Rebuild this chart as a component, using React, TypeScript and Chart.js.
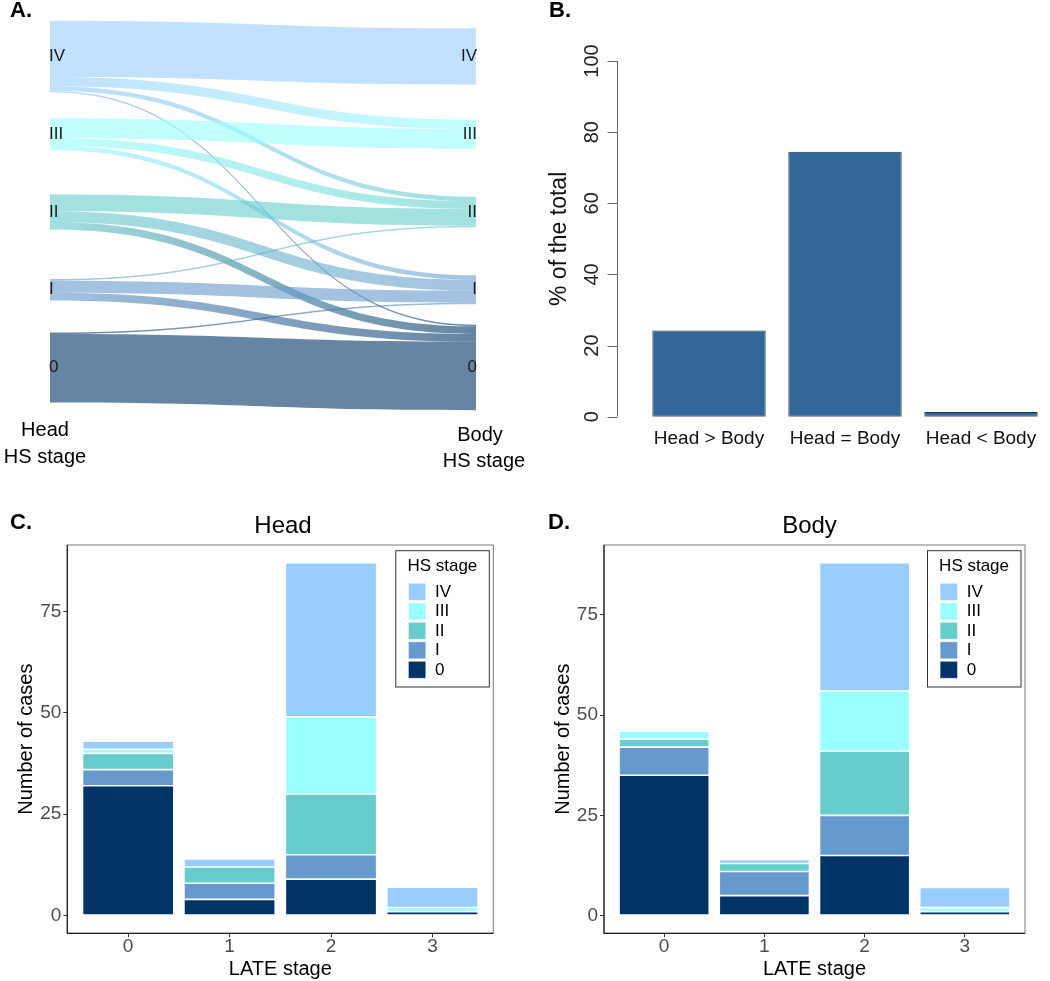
import React, { useEffect, useRef } from 'react';
import { Chart, registerables } from 'chart.js';

Chart.register(...registerables);

const FONT = '"Liberation Sans", Arial, Helvetica, sans-serif';
Chart.defaults.font.family = FONT;

// ---------- Panel A: Head HS stage -> Body HS stage flows ----------
const hsStages = ['0', 'I', 'II', 'III', 'IV'];
const hsColors = ['#003366', '#6699CC', '#66CCCC', '#99FFFF', '#99CCFF'];
const flowFrom = ['IV', 'IV', 'IV', 'IV', 'III', 'III', 'III', 'II', 'II', 'II', 'I', 'I', 'I', '0', '0'];
const flowTo = ['IV', 'III', 'II', '0', 'III', 'II', 'I', 'II', 'I', '0', 'II', 'I', '0', 'I', '0'];
const flowCases = [37, 6, 3, 1, 13, 5, 3, 11, 7, 5, 1, 8, 5, 1, 45];

// ---------- Panel B ----------
const comparisonLabels = ['Head > Body', 'Head = Body', 'Head < Body'];
const comparisonPercent = [24.2, 74.5, 1.3];
const percentTicks = [0, 20, 40, 60, 80, 100];

// ---------- Panels C & D ----------
const lateStages = ['0', '1', '2', '3'];
const caseTicks = [0, 25, 50, 75];
const headStage0 = [32, 4, 9, 1];
const headStageI = [4, 4, 6, 0];
const headStageII = [4, 4, 15, 0];
const headStageIII = [1, 0, 19, 1];
const headStageIV = [2, 2, 38, 5];
const bodyStage0 = [35, 5, 15, 1];
const bodyStageI = [7, 6, 10, 0];
const bodyStageII = [2, 2, 16, 0];
const bodyStageIII = [2, 0, 15, 1];
const bodyStageIV = [0, 1, 32, 5];

const SLOT = 51; // vertical spacing between node centres, in case units

function rgba(hex: string, a: number) {
  const n = parseInt(hex.slice(1), 16);
  return `rgba(${(n >> 16) & 255},${(n >> 8) & 255},${n & 255},${a})`;
}

const sankeyPlugin = {
  id: 'sankeyFlows',
  afterDatasetsDraw(chart: any) {
    const { ctx } = chart;
    const xs = chart.scales.x;
    const ys = chart.scales.y;
    const xL = xs.getPixelForValue(0);
    const xR = xs.getPixelForValue(1);
    const xM = (xL + xR) / 2;
    const idx = (s: string) => hsStages.indexOf(s);
    const n = hsStages.length;
    const outTot = new Array(n).fill(0);
    const inTot = new Array(n).fill(0);
    flowCases.forEach((c, i) => {
      outTot[idx(flowFrom[i])] += c;
      inTot[idx(flowTo[i])] += c;
    });
    const leftCur = outTot.map((t, k) => k * SLOT + t / 2);
    const rightCur = inTot.map((t, k) => k * SLOT + t / 2);
    const order = flowCases.map((_, i) => i);
    const sTop: number[] = [];
    const tTop: number[] = [];
    order
      .slice()
      .sort((a, b) => idx(flowFrom[b]) - idx(flowFrom[a]) || idx(flowTo[b]) - idx(flowTo[a]))
      .forEach((i) => {
        const k = idx(flowFrom[i]);
        sTop[i] = leftCur[k];
        leftCur[k] -= flowCases[i];
      });
    order
      .slice()
      .sort((a, b) => idx(flowTo[b]) - idx(flowTo[a]) || idx(flowFrom[b]) - idx(flowFrom[a]))
      .forEach((i) => {
        const k = idx(flowTo[i]);
        tTop[i] = rightCur[k];
        rightCur[k] -= flowCases[i];
      });

    ctx.save();
    flowCases.forEach((c, i) => {
      const y1 = ys.getPixelForValue(sTop[i]);
      const y2 = ys.getPixelForValue(sTop[i] - c);
      const y3 = ys.getPixelForValue(tTop[i]);
      const y4 = ys.getPixelForValue(tTop[i] - c);
      const g = ctx.createLinearGradient(xL, 0, xR, 0);
      g.addColorStop(0, rgba(hsColors[idx(flowFrom[i])], 0.6));
      g.addColorStop(1, rgba(hsColors[idx(flowTo[i])], 0.6));
      ctx.beginPath();
      ctx.moveTo(xL, y1);
      ctx.bezierCurveTo(xM, y1, xM, y3, xR, y3);
      ctx.lineTo(xR, y4);
      ctx.bezierCurveTo(xM, y4, xM, y2, xL, y2);
      ctx.closePath();
      ctx.fillStyle = g;
      ctx.fill();
    });

    // node labels
    ctx.fillStyle = '#1a1a1a';
    ctx.font = `17px ${FONT}`;
    ctx.textBaseline = 'middle';
    hsStages.forEach((s, k) => {
      const py = ys.getPixelForValue(k * SLOT);
      ctx.textAlign = 'left';
      ctx.fillText(s, xL - 1, py);
      ctx.textAlign = 'right';
      ctx.fillText(s, xR + 1, py);
    });

    // axis captions
    ctx.fillStyle = '#000';
    ctx.font = `20px ${FONT}`;
    ctx.textAlign = 'center';
    ctx.fillText('Head', 45, 430);
    ctx.fillText('HS stage', 45, 457);
    ctx.fillText('Body', 480, 435);
    ctx.fillText('HS stage', 484, 461);

    ctx.font = `bold 22px ${FONT}`;
    ctx.textAlign = 'left';
    ctx.fillText('A.', 10, 11);
    ctx.restore();
  },
};

function sankeyConfig(): any {
  return {
    type: 'scatter',
    data: { datasets: [{ data: [], pointRadius: 0 }] },
    options: {
      animation: false,
      responsive: false,
      devicePixelRatio: 1,
      layout: { padding: { left: 50, right: 69, top: 10, bottom: 60 } },
      plugins: { legend: { display: false }, tooltip: { enabled: false } },
      scales: {
        x: { type: 'linear', min: 0, max: 1, display: false },
        y: { type: 'linear', min: -34.4, max: 234.5, display: false },
      },
    },
    plugins: [sankeyPlugin],
  };
}

const percentAxisPlugin = {
  id: 'percentAxis',
  afterDraw(chart: any) {
    const { ctx, chartArea: a } = chart;
    const x = chart.scales.x;
    const y = chart.scales.y;
    const axisX = Math.round(a.left - 24) + 0.5;
    ctx.save();
    ctx.strokeStyle = '#666';
    ctx.lineWidth = 1;
    ctx.beginPath();
    ctx.moveTo(axisX, y.getPixelForValue(percentTicks[0]));
    ctx.lineTo(axisX, y.getPixelForValue(percentTicks[percentTicks.length - 1]));
    ctx.stroke();
    percentTicks.forEach((v) => {
      const py = Math.round(y.getPixelForValue(v)) + 0.5;
      ctx.beginPath();
      ctx.moveTo(axisX - 10, py);
      ctx.lineTo(axisX, py);
      ctx.stroke();
      ctx.save();
      ctx.translate(axisX - 25, y.getPixelForValue(v));
      ctx.rotate(-Math.PI / 2);
      ctx.fillStyle = '#222';
      ctx.font = `20px ${FONT}`;
      ctx.textAlign = 'center';
      ctx.textBaseline = 'middle';
      ctx.fillText(String(v), 0, 0);
      ctx.restore();
    });
    ctx.save();
    ctx.translate(40, (a.top + a.bottom) / 2);
    ctx.rotate(-Math.PI / 2);
    ctx.fillStyle = '#111';
    ctx.font = `23px ${FONT}`;
    ctx.textAlign = 'center';
    ctx.textBaseline = 'middle';
    ctx.fillText('% of the total', 0, 0);
    ctx.restore();

    ctx.fillStyle = '#111';
    ctx.font = `19px ${FONT}`;
    ctx.textAlign = 'center';
    ctx.textBaseline = 'middle';
    chart.data.labels.forEach((lab: string, i: number) => {
      ctx.fillText(lab, x.getPixelForValue(i), a.bottom + 22.5);
    });

    ctx.fillStyle = '#000';
    ctx.font = `bold 22px ${FONT}`;
    ctx.textAlign = 'left';
    ctx.fillText('B.', 29, 11);
    ctx.restore();
  },
};

function percentConfig(): any {
  return {
    type: 'bar',
    data: {
      labels: comparisonLabels,
      datasets: [
        {
          data: comparisonPercent,
          backgroundColor: '#336699',
          borderColor: '#1d3349',
          borderWidth: 1,
          borderSkipped: false,
          barPercentage: 1 / 1.2,
          categoryPercentage: 1,
        },
      ],
    },
    options: {
      animation: false,
      responsive: false,
      devicePixelRatio: 1,
      layout: { padding: { left: 121, right: 1, top: 61, bottom: 63.3 } },
      plugins: { legend: { display: false }, tooltip: { enabled: false } },
      scales: {
        x: { display: false },
        y: { display: false, min: 0, max: 100 },
      },
    },
    plugins: [percentAxisPlugin],
  };
}

function makeBoxLegendPlugin(letter: string, letterX: number, title: string, titleX: number) {
  return {
    id: 'boxLegend',
    afterDraw(chart: any) {
      const { ctx, chartArea: a } = chart;
      ctx.save();
      // panel border: grey box, darker axis lines on left and bottom
      ctx.strokeStyle = '#7a7a7a';
      ctx.lineWidth = 1;
      ctx.strokeRect(a.left, a.top, a.right - a.left, a.bottom - a.top);
      ctx.strokeStyle = '#222';
      ctx.lineWidth = 1.3;
      ctx.beginPath();
      ctx.moveTo(a.left, a.top);
      ctx.lineTo(a.left, a.bottom);
      ctx.lineTo(a.right, a.bottom);
      ctx.stroke();

      const lw = 93.5;
      const lh = 136.3;
      const lx = a.right - 4 - lw;
      const ly = a.top + 5.7;
      ctx.lineWidth = 1;
      ctx.strokeStyle = '#333';
      ctx.fillStyle = '#fff';
      ctx.fillRect(lx, ly, lw, lh);
      ctx.strokeRect(lx, ly, lw, lh);
      ctx.fillStyle = '#000';
      ctx.font = `17px ${FONT}`;
      ctx.textBaseline = 'middle';
      ctx.textAlign = 'left';
      ctx.fillText('HS stage', lx + 11.6, ly + 16);
      const ds = chart.data.datasets;
      for (let r = 0; r < ds.length; r++) {
        const d = ds[ds.length - 1 - r];
        const ky = ly + 32.6 + r * 19.5;
        ctx.fillStyle = d.backgroundColor;
        ctx.fillRect(lx + 12.6, ky, 17.4, 17);
        ctx.strokeStyle = 'rgba(255,255,255,0.5)';
        ctx.strokeRect(lx + 12.6, ky, 17.4, 17);
        ctx.fillStyle = '#000';
        ctx.fillText(d.label, lx + 39.3, ky + 8.8);
      }

      ctx.fillStyle = '#000';
      ctx.font = `24px ${FONT}`;
      ctx.textAlign = 'center';
      ctx.fillText(title, titleX, 46.7);
      ctx.font = `bold 22px ${FONT}`;
      ctx.textAlign = 'left';
      ctx.fillText(letter, letterX, 43);
      ctx.restore();
    },
  };
}

function stackConfig(
  series: number[][],
  title: string,
  letter: string,
  letterX: number,
  titleX: number,
  chartLeft: number,
  padRight: number,
  yTitlePad: number
): any {
  const totals = lateStages.map((_, i) => series.reduce((s, arr) => s + arr[i], 0));
  const top = Math.max(...totals);
  const tickFont = { size: 19, lineHeight: 1 };
  return {
    type: 'bar',
    data: {
      datasets: series.map((arr, k) => ({
        label: hsStages[k],
        data: arr.map((v, i) => ({ x: i, y: v })),
        backgroundColor: hsColors[k],
        borderColor: 'rgba(255,255,255,0.35)',
        borderWidth: 0.8,
        borderSkipped: false,
        barPercentage: 0.9,
        categoryPercentage: 1,
      })),
    },
    options: {
      animation: false,
      responsive: false,
      devicePixelRatio: 1,
      layout: { padding: { left: 0, right: padRight, top: 65, bottom: 0 } },
      plugins: { legend: { display: false }, tooltip: { enabled: false } },
      scales: {
        x: {
          type: 'linear',
          stacked: true,
          offset: false,
          min: -0.6,
          max: 3.6,
          afterBuildTicks: (s: any) => {
            s.ticks = lateStages.map((_, i) => ({ value: i }));
          },
          afterFit: (s: any) => {
            s.height = 47.7;
          },
          ticks: {
            font: tickFont,
            color: '#4d4d4d',
            padding: 0,
            callback: (v: any) => lateStages[Math.round(Number(v))] ?? '',
          },
          grid: { offset: false, drawOnChartArea: false, drawTicks: true, tickLength: 4, tickColor: '#333' },
          border: { display: false },
          title: {
            display: true,
            text: 'LATE stage',
            color: '#000',
            font: { size: 20 },
            padding: { top: 0, bottom: 0 },
          },
        },
        y: {
          type: 'linear',
          stacked: true,
          min: -0.05 * top,
          max: 1.05 * top,
          afterBuildTicks: (s: any) => {
            s.ticks = caseTicks.map((v) => ({ value: v }));
          },
          afterFit: (s: any) => {
            s.width = chartLeft;
          },
          ticks: { font: tickFont, color: '#4d4d4d', padding: 2 },
          grid: { drawOnChartArea: false, drawTicks: true, tickLength: 4, tickColor: '#333' },
          border: { display: false },
          title: {
            display: true,
            text: 'Number of cases',
            color: '#000',
            font: { size: 20 },
            padding: { top: yTitlePad, bottom: 0 },
          },
        },
      },
    },
    plugins: [makeBoxLegendPlugin(letter, letterX, title, titleX)],
  };
}

function ChartBox(props: { make: () => any; left: number; top: number; width: number; height: number }) {
  const ref = useRef<HTMLCanvasElement | null>(null);
  useEffect(() => {
    if (!ref.current) return;
    const chart = new Chart(ref.current, props.make());
    return () => chart.destroy();
  }, []);
  return (
    <div style={{ position: 'absolute', left: props.left, top: props.top, width: props.width, height: props.height }}>
      <canvas
        ref={ref}
        width={props.width}
        height={props.height}
        style={{ width: props.width, height: props.height, display: 'block' }}
      />
    </div>
  );
}

export default function App() {
  const head = [headStage0, headStageI, headStageII, headStageIII, headStageIV];
  const body = [bodyStage0, bodyStageI, bodyStageII, bodyStageIII, bodyStageIV];
  return (
    <div style={{ position: 'absolute', left: 0, top: 0, width: 1050, height: 981, background: '#fff', overflow: 'hidden' }}>
      <ChartBox make={sankeyConfig} left={0} top={0} width={545} height={480} />
      <ChartBox make={percentConfig} left={520} top={0} width={530} height={480} />
      <ChartBox
        make={() => stackConfig(head, 'Head', 'C.', 10, 283, 67.3, 26.7, 14.7)}
        left={0}
        top={480}
        width={520}
        height={501}
      />
      <ChartBox
        make={() => stackConfig(body, 'Body', 'D.', 28, 289.5, 84, 25, 31.3)}
        left={520}
        top={480}
        width={530}
        height={501}
      />
    </div>
  );
}
